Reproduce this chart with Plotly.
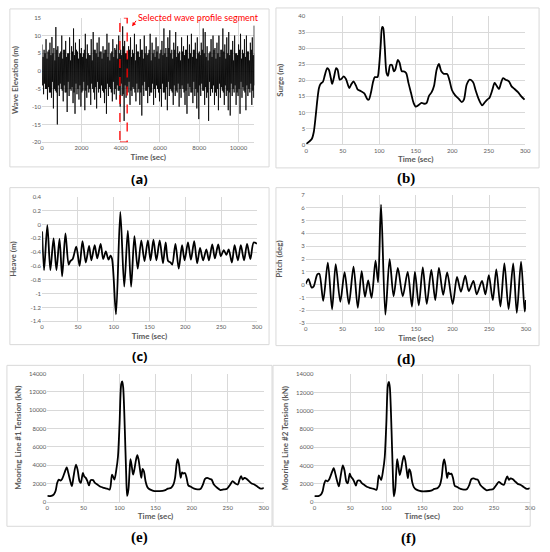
import plotly.graph_objects as go

# ---------------- data ----------------
# (a) wave elevation: crest / trough values every 100 s
wave_t = list(range(0, 10801, 100))
wave_crest = [7.5, 6, 9, 5.5, 8, 9.6, 6.5, 12.4, 7, 5,
              10, 6, 8.5, 5, 9.5, 7, 12, 8, 5.5, 9,
              6.5, 5, 10.5, 7.5, 4.5, 9, 11, 6, 8, 9.5,
              5.5, 7, 6, 10.5, 8, 5, 9, 6.5, 7.5, 10,
              6, 12.6, 8.5, 5, 7, 9.5, 6, 10.5, 7.5, 5.5,
              9, 6, 10, 7, 5, 10.5, 8, 6, 9.5, 7,
              5, 8.5, 12, 6.5, 9.5, 11.5, 6, 8, 11, 7,
              5.5, 9.5, 7, 6, 10, 7.5, 10.5, 6, 8, 9.5,
              5.5, 8, 12, 11, 7, 5, 9, 10, 6.5, 8,
              10, 6, 12, 7.5, 9.5, 11, 6, 8.5, 10, 5,
              7.5, 10.5, 6, 9, 10, 5.5, 8, 9.5, 12.8]
wave_trough = [-6.5, -5, -8, -6, -7.5, -10.5, -5.5, -15, -7, -5,
               -8.5, -6, -11.5, -7, -5.5, -9, -12, -6.5, -8, -10,
               -5.5, -11, -7.5, -6, -9.5, -5, -8, -10.5, -6, -7.5,
               -5.5, -9, -12, -7, -5, -8.5, -6.5, -8, -5.5, -10,
               -7, -14, -7.5, -6, -9.5, -7, -5, -8.5, -6, -9.5,
               -12.5, -7, -5.5, -9, -7, -6, -9.5, -7.5, -5, -8.5,
               -10, -6, -8, -11, -7, -5.5, -9.5, -7, -6, -10,
               -7.5, -5, -9.5, -12, -7, -6, -9, -7, -10.5, -13.5,
               -7, -5.5, -9.5, -7.5, -14, -7, -6, -9.5, -7, -11,
               -7.5, -5.5, -9.5, -7, -11, -12.5, -7, -6, -9.5, -7,
               -12, -7.5, -5.5, -11, -7, -6, -9.5, -7.5, -7]
# smaller intermediate crests / troughs between the above samples
wave_mid_hi = [4, 5, 3.5, 6, 4.5, 5, 3, 6, 4, 5.5,
               3.5, 6, 4, 5, 3, 5.5, 4.5, 6, 3.5, 5,
               4, 6, 3.5, 5, 4.5, 3, 6, 5, 4, 5.5,
               3.5, 5, 6, 4, 3, 5.5, 4, 6, 3.5, 5,
               4.5, 7, 5, 3.5, 6, 4, 5, 3, 5.5, 4,
               6, 3.5, 5, 4.5, 6, 3, 5, 4, 5.5, 3.5,
               6, 4.5, 5, 4, 6.5, 5, 3.5, 6, 4, 5,
               3, 5.5, 4.5, 6, 3.5, 5, 4, 6, 3.5, 5,
               4.5, 6, 5, 4, 3, 5.5, 4, 6, 3.5, 5,
               4, 6, 5.5, 3.5, 5, 4.5, 6, 3, 5, 4.5,
               6, 3.5, 5, 4, 5.5, 3, 6, 4.5, 5]
wave_mid_lo = [-4, -3.5, -5, -4.5, -6, -3, -5, -6, -4, -3.5,
               -5.5, -4, -6, -3, -5, -4.5, -6, -3.5, -5, -4,
               -6, -3, -5.5, -4, -5, -3.5, -6, -4.5, -3, -5,
               -4, -6, -5, -3.5, -4.5, -6, -3, -5, -4, -5.5,
               -3.5, -6.5, -4, -5, -3, -5.5, -4.5, -6, -3.5, -5,
               -6, -4, -3, -5.5, -4.5, -6, -3.5, -5, -4, -6,
               -5, -3.5, -6, -4.5, -3, -5, -6, -4, -5.5, -3.5,
               -5, -4, -6, -5.5, -3.5, -4.5, -6, -3, -5, -6,
               -4, -3.5, -5.5, -4.5, -6, -3, -5, -4, -6, -5,
               -3.5, -4.5, -6, -4, -5.5, -6, -3.5, -5, -4, -6,
               -5, -3, -4.5, -6, -4, -5, -3.5, -5.5, -4]
segment_t = [3960, 4330]

# (b) surge
surge_t = [0, 4, 7.6, 10.3, 13, 15.3, 17.5, 19.8, 23, 25.6, 28.8, 31, 33.7, 35.5, 37.8, 41, 43, 45.9, 48,
           51.3, 54.4, 59, 61.6, 64.8, 68, 70.6, 75, 79.6, 84, 85.8, 88.6, 91.8, 94, 97.6, 99.4, 102,
           104, 105.3, 107.5, 110, 112, 115, 117.4, 120, 121.9, 125.5, 127.8, 131, 133.6, 136.8, 140,
           143.5, 147, 150, 153.4, 158, 161.5, 165, 168, 171.8, 175, 178.6, 181.7, 185, 188.5, 193,
           196, 199.7, 204, 208.7, 213, 216, 219.8, 224, 228.6, 232, 236.5, 241, 244, 248, 251, 255,
           258, 261, 264, 266.8, 269.5, 273, 277.6, 281, 285.3, 290, 294.2, 299]
surge_v = [0.2, 0.9, 1.7, 3.8, 8.9, 14, 17.6, 18.9, 19.6, 21.7, 23.8, 23.3, 20.7, 18.9, 20.7, 23.8, 23.3,
           20.2, 20.4, 21.2, 20.4, 17.6, 18.7, 19.7, 18.4, 17.1, 16.6, 15.9, 14, 14, 16.1, 19.7, 21,
           21, 23.3, 31, 36.6, 36.4, 30.5, 22.3, 21.4, 24.8, 24.8, 22.8, 23.3, 26.4, 25.5, 22.8, 22.8,
           22.3, 19.2, 16.1, 13, 11.8, 12.2, 13, 12.7, 13, 15.1, 16.3, 18.2, 23.3, 25.1, 22.8, 22,
           22, 20.2, 16.9, 15.3, 14.3, 13.2, 14, 18.7, 20.2, 19.4, 16.9, 14, 12.2, 13, 14, 14.6,
           17.1, 19.2, 18.2, 17.3, 19.2, 20.7, 20.2, 19.7, 18.2, 17.3, 16.3, 15.1, 14]

# (c) heave
heave_t = [0, 2.75, 7.3, 11.5, 16, 20, 24.3, 28, 32.6, 37, 39.4, 42.7, 47.7, 52.3, 56.4, 61, 65.6, 68.8,
           73.4, 77, 81.7, 85.3, 89, 92.7, 95.4, 97.7, 103.2, 109.2, 114.7, 119.7, 124.3, 128.9, 133.5,
           138.5, 143, 147.7, 151.4, 155.5, 159.6, 164.2, 168.8, 172.5, 176, 179.4, 181.7, 186.2, 190.8,
           195.4, 199, 203.7, 207.8, 212.4, 216.5, 220.6, 224.8, 229.4, 233, 237.6, 241.3, 245.9, 249.5,
           253.7, 257.3, 260.6, 265, 268.8, 273.4, 277.5, 282, 286.2, 290.8, 295.4, 300]
heave_v = [-0.1, -0.66, -0.01, -0.66, -0.2, -0.66, -0.21, -0.75, -0.13, -0.58, -0.53, -0.5, -0.32, -0.6,
           -0.24, -0.55, -0.31, -0.52, -0.3, -0.49, -0.28, -0.5, -0.39, -0.51, -0.45, -0.5, -1.3, 0.18,
           -0.9, -0.09, -0.9, -0.17, -0.64, -0.23, -0.53, -0.23, -0.52, -0.22, -0.52, -0.23, -0.56,
           -0.26, -0.53, -0.55, -0.58, -0.28, -0.64, -0.3, -0.52, -0.26, -0.51, -0.24, -0.56, -0.34,
           -0.52, -0.36, -0.52, -0.29, -0.49, -0.29, -0.46, -0.37, -0.44, -0.36, -0.55, -0.3, -0.52,
           -0.3, -0.52, -0.28, -0.5, -0.26, -0.28]

# (d) pitch
pitch_t = [0, 3.6, 8, 10.7, 15.7, 18.4, 23.7, 30, 35.8, 40.7, 47, 52.8, 58.7, 65, 70.8, 76.1, 80.6, 85,
           89.6, 95, 98.5, 102.5, 108.4, 114.2, 119.6, 125.4, 132.1, 138.8, 144.6, 148.7, 154, 159.4,
           164.8, 171, 176.4, 181.4, 187.2, 192.6, 200.2, 206, 211.4, 217.2, 222.1, 228.4, 232.9,
           240.1, 244.7, 249.4, 254.8, 259.6, 265.2, 270.6, 276.3, 282.6, 287.5, 293.3, 298.3, 300]
pitch_v = [0.08, 0.44, -0.23, -0.13, 0.8, 0.85, -1.26, 1.72, -1.92, 1.6, -1.33, 0.97, -1.51, 1.41, -1.8,
           1.05, -0.95, 0.33, -1.03, 1.87, 0.18, 6.23, -2.33, 2.0, -0.9, 1.3, -0.9, 1.0, -1.7, 1.0,
           -1.6, 1.35, -1.5, 1.15, -1.2, 1.3, -0.8, 0.95, -1.5, 0.6, -0.55, 0.7, -0.5, 0.3, -0.75,
           0.3, -0.75, 0.75, -1.2, 1.2, -1.7, 1.65, -1.9, 1.65, -2.2, 1.8, -2.1, -1.2]

# (e) mooring line #1 tension
t1_t = [0, 5.5, 9.1, 11.4, 13.7, 15.9, 18.2, 20.5, 23.7, 26.9, 29.1, 31.9, 34.1, 36.4, 39.6, 41.9, 44.6,
        46.4, 49.2, 51, 53.3, 55.5, 57.8, 60, 63.3, 66, 69.2, 73.7, 78.3, 82.8, 86.5, 89.7, 92.9, 95.6,
        97.9, 100.1, 102.4, 103.8, 105.1, 107.4, 109.2, 110.6, 112.4, 113.8, 115.2, 117, 118.8, 120.6,
        122.9, 124.7, 126.5, 128.4, 130.2, 132, 133.8, 136.1, 138.4, 140.6, 144.3, 148.8, 155.7, 162.5,
        167, 171.6, 174.8, 177, 179.3, 180.7, 182.5, 184.8, 186.6, 188.4, 190.7, 193, 195.3, 198.9,
        203.5, 208, 212.6, 215.7, 218.5, 221.7, 224.9, 227.6, 230.8, 235.3, 239.9, 244.4, 249, 253.5,
        256.7, 260.4, 264, 266.3, 268.5, 270.8, 273.1, 276.3, 279.5, 283.1, 286.8, 291.3, 295.9, 300]
t1_v = [650, 650, 830, 1190, 2080, 2440, 2330, 2510, 3150, 3770, 3150, 2260, 1720, 2800, 4050, 3520, 2260,
        2080, 3150, 2800, 2620, 2260, 1800, 2370, 2370, 2080, 1900, 1650, 1540, 1440, 1360, 2980, 2440,
        3510, 4950, 8540, 12850, 13140, 12490, 7820, 3150, 650, 1360, 3150, 4660, 3880, 2980, 3520,
        4590, 5100, 4590, 3520, 2620, 3590, 3340, 2260, 1650, 1440, 1290, 1180, 1180, 1260, 1440,
        1540, 1900, 2620, 4230, 4660, 4050, 2620, 3230, 3090, 3150, 2620, 1800, 1650, 1440, 1360,
        1440, 1900, 2510, 2620, 2510, 2440, 1900, 1540, 1290, 1360, 1440, 1900, 2260, 2010, 1900,
        2440, 2800, 2440, 2620, 2510, 2260, 2010, 1900, 1650, 1440, 1540]

# (f) mooring line #2 tension
t2_t = t1_t
t2_v = [640, 640, 800, 1150, 2000, 2350, 2250, 2450, 3100, 3700, 3100, 2200, 1700, 2750, 4000, 3450, 2200,
        2050, 3100, 2750, 2550, 2200, 1780, 2330, 2330, 2050, 1880, 1630, 1520, 1420, 1340, 2900, 2400,
        3450, 4900, 8500, 12850, 13150, 12500, 7800, 3100, 620, 1340, 3100, 4700, 3850, 2950, 3500,
        4550, 5050, 4550, 3500, 2600, 3600, 3300, 2200, 1620, 1420, 1270, 1170, 1170, 1240, 1420,
        1520, 1880, 2600, 4250, 4650, 4000, 2600, 3200, 3050, 3100, 2600, 1780, 1630, 1420, 1340,
        1420, 1880, 2500, 2580, 2480, 2420, 1880, 1520, 1270, 1340, 1420, 1880, 2200, 1980, 1880,
        2420, 2800, 2420, 2580, 2480, 2240, 1980, 1880, 1630, 1420, 1520]

# tick labels
heave_ticks = [0.4, 0.2, 0, -0.2, -0.4, -0.6, -0.8, -1, -1.2, -1.4]
heave_tick_text = ["0.4", "0.2", "0", "-0.2", "-0.4", "-0.6", "-0.8", "-1", "-1.2", "-1.4"]
wave_ticks = [15, 10, 5, 0, -5, -10, -15, -20]
wave_tick_text = ["15", "10", "5", "0", "-5", "-10", "-15", "-20"]
pitch_ticks = [7, 6, 5, 4, 3, 2, 1, 0, -1, -2, -3]
pitch_tick_text = ["7", "6", "5", "4", "3", "2", "1", "0", "-1", "-2", "-3"]

# ---------------- figure ----------------
W, H = 550, 552
FONT = "Lato"
GRID = "#d9d9d9"
TXT = "#595959"

def px_x(a, b):
    return [a / W, b / W]

def px_y(top, bottom):
    return [1 - bottom / H, 1 - top / H]

fig = go.Figure()

wx, wy = [], []
for t, c, lo, hi, d in zip(wave_t, wave_crest, wave_mid_lo, wave_mid_hi, wave_trough):
    wx += [t, t + 25, t + 50, t + 75]
    wy += [c, lo, hi, d]
fig.add_trace(go.Scatter(x=wx, y=wy, mode="lines", line=dict(color="black", width=0.8),
                         xaxis="x", yaxis="y", hoverinfo="skip"))

line = dict(color="black", width=1.8, shape="spline", smoothing=0.8)
fig.add_trace(go.Scatter(x=surge_t, y=surge_v, mode="lines", line=line, xaxis="x2", yaxis="y2"))
fig.add_trace(go.Scatter(x=heave_t, y=heave_v, mode="lines", line=line, xaxis="x3", yaxis="y3"))
fig.add_trace(go.Scatter(x=pitch_t, y=pitch_v, mode="lines", line=line, xaxis="x4", yaxis="y4"))
fig.add_trace(go.Scatter(x=t1_t, y=t1_v, mode="lines", line=line, xaxis="x5", yaxis="y5"))
fig.add_trace(go.Scatter(x=t2_t, y=t2_v, mode="lines", line=line, xaxis="x6", yaxis="y6"))


def xax(dom, anchor, rng, dtick):
    return dict(domain=dom, anchor=anchor, range=rng, dtick=dtick, tick0=0, tickformat="d",
                showgrid=True, gridcolor=GRID, gridwidth=1, zeroline=False,
                showline=True, linecolor=GRID, ticks="",
                tickfont=dict(family=FONT, size=6, color=TXT),
                title=dict(text="<b>Time (sec)</b>", font=dict(family=FONT, size=8, color=TXT), standoff=3))


def yax(dom, anchor, rng, title, standoff, dtick=None, vals=None, text=None):
    d = dict(domain=dom, anchor=anchor, range=rng, showgrid=True, gridcolor=GRID, gridwidth=1,
             zeroline=False, showline=False, ticks="",
             tickfont=dict(family=FONT, size=6, color=TXT),
             title=dict(text="<b>" + title + "</b>", font=dict(family=FONT, size=8, color=TXT),
                        standoff=standoff))
    if vals is not None:
        d.update(tickmode="array", tickvals=vals, ticktext=text)
    else:
        d.update(dtick=dtick, tick0=0, tickformat="d")
    return d


layout = dict(
    width=W, height=H, margin=dict(l=0, r=0, t=0, b=0),
    paper_bgcolor="white", plot_bgcolor="white", showlegend=False,
    xaxis=xax(px_x(40.7, 256), "y", [0, 10800], 2000),
    yaxis=yax(px_y(14, 140), "x", [-20, 15], "Wave Elevation (m)", 12, vals=wave_ticks, text=wave_tick_text),
    xaxis2=xax(px_x(308.7, 531), "y2", [0, 300], 50),
    yaxis2=yax(px_y(12.3, 142.3), "x2", [0, 40], "Surge (m)", 13, dtick=5),
    xaxis3=xax(px_x(40.7, 258.7), "y3", [0, 300], 50),
    yaxis3=yax(px_y(195.3, 321.3), "x3", [-1.4, 0.4], "Heave (m)", 12, vals=heave_ticks, text=heave_tick_text),
    xaxis4=xax(px_x(308.3, 531.7), "y4", [0, 300], 50),
    yaxis4=yax(px_y(193.3, 323.3), "x4", [-3, 7], "Pitch (deg)", 15, vals=pitch_ticks, text=pitch_tick_text),
    xaxis5=xax(px_x(46, 265.7), "y5", [0, 300], 50),
    yaxis5=yax(px_y(374.3, 504.3), "x5", [0, 14000], "Mooring Line #1 Tension (kN)", 6, dtick=2000),
    xaxis6=xax(px_x(317, 535.7), "y6", [0, 300], 50),
    yaxis6=yax(px_y(375, 504.3), "x6", [0, 14000], "Mooring Line #2 Tension (kN)", 6, dtick=2000),
)
fig.update_layout(**layout)

boxes = [(8, 5, 271, 165), (278, 4, 545, 166), (8, 186, 271, 345), (278, 186, 545, 346),
         (5, 366, 274, 529), (275, 366, 536, 529)]
for x0, y0, x1, y1 in boxes:
    fig.add_shape(type="rect", xref="paper", yref="paper", x0=x0 / W, x1=x1 / W,
                  y0=1 - y1 / H, y1=1 - y0 / H, line=dict(color=GRID, width=1))

fig.add_shape(type="rect", xref="x", yref="y", x0=segment_t[0], x1=segment_t[1], y0=-20, y1=15,
              line=dict(color="#ff0000", width=1.3, dash="dash"))
fig.add_annotation(xref="x", yref="y", x=4580, y=12.6, ax=5, ay=-7, showarrow=True,
                   arrowhead=2, arrowsize=0.8, arrowwidth=1, arrowcolor="#ff0000", text="")
fig.add_annotation(xref="paper", yref="paper", x=136 / W, y=1 - 14 / H, xanchor="left", yanchor="middle",
                   text="Selected wave profile segment", showarrow=False,
                   font=dict(family=FONT, size=9, color="#ff0000"))

labels = [("(a)", 140, 177, "Open Sans", 13), ("(b)", 410, 177, "Liberation Serif", 15),
          ("(c)", 140, 357, "Open Sans", 13), ("(d)", 410, 360, "Liberation Serif", 15),
          ("(e)", 140, 540, "Liberation Serif", 15), ("(f)", 412, 541, "Liberation Serif", 15)]
for txt, x, y, fam, sz in labels:
    fig.add_annotation(xref="paper", yref="paper", x=x / W, y=1 - y / H, text="<b>" + txt + "</b>",
                       showarrow=False, xanchor="center", yanchor="middle",
                       font=dict(family=fam, size=sz, color="black"))

fig.write_html("out.html", config={"displayModeBar": False},
               post_script="document.body.style.margin='0px';")
